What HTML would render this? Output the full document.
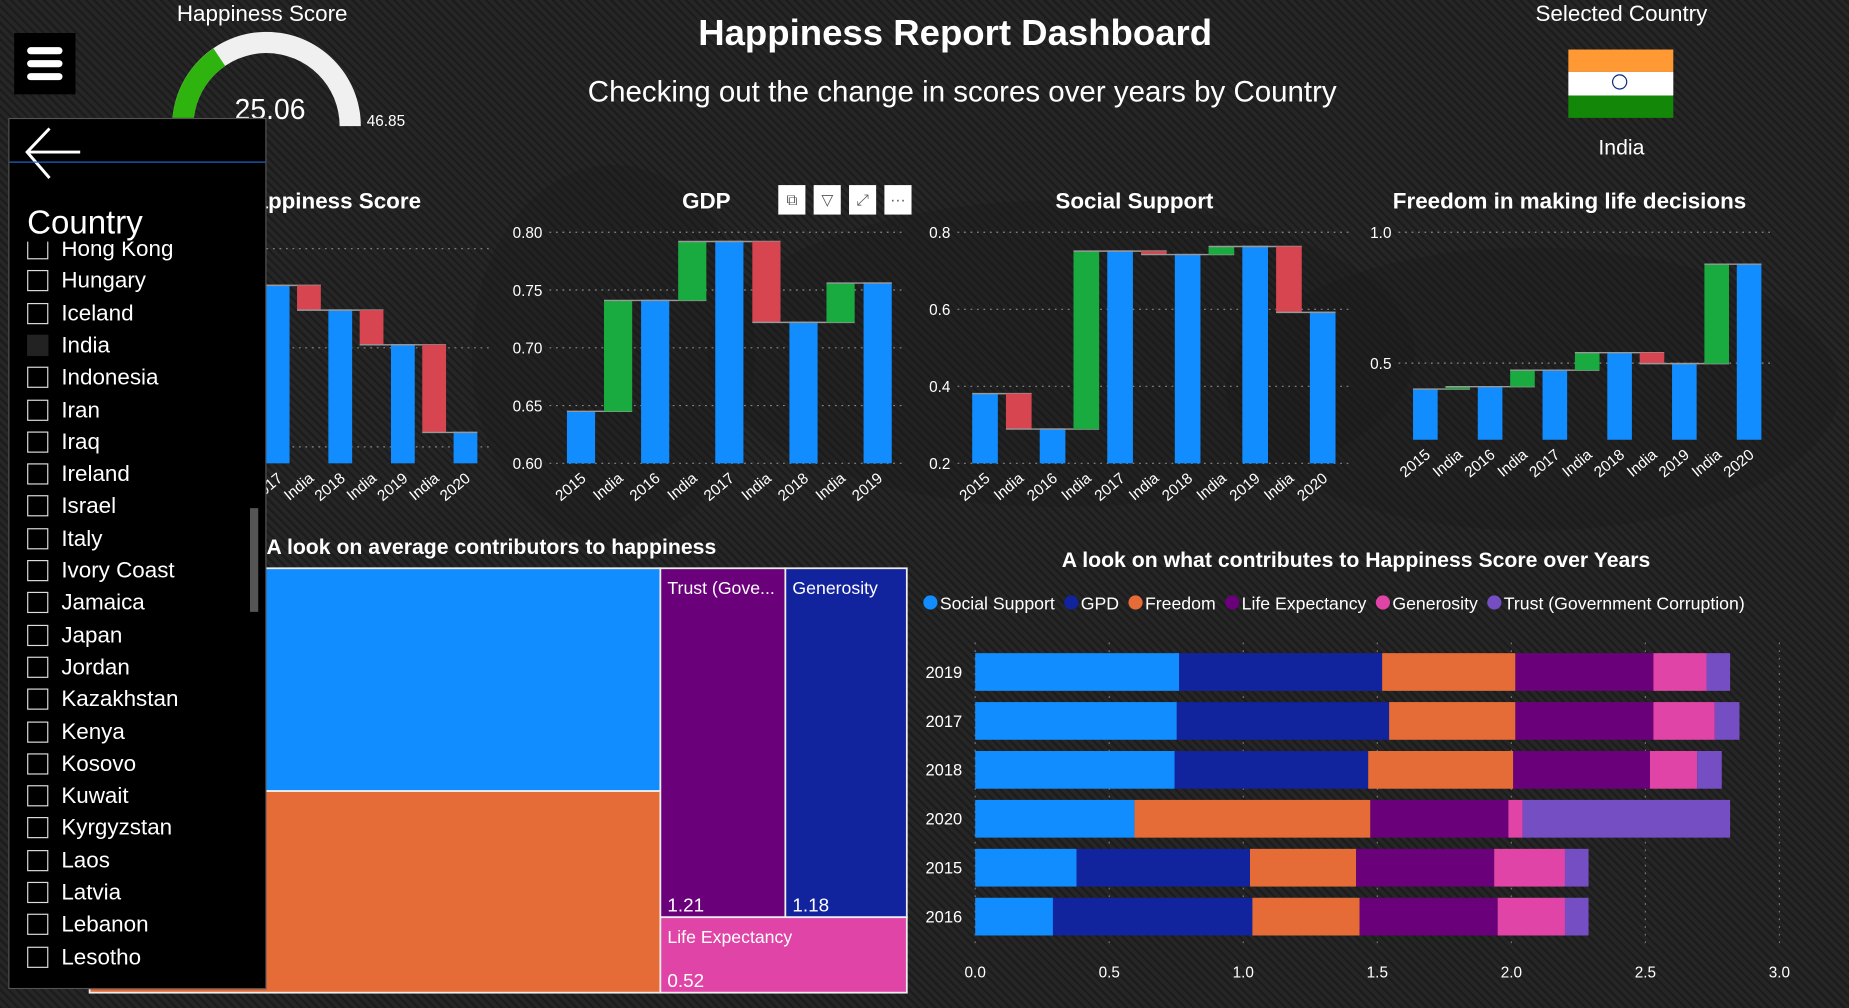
<!DOCTYPE html>
<html><head><meta charset="utf-8">
<style>
html,body{margin:0;padding:0;width:1849px;height:1008px;overflow:hidden;background:#1e1e1e;}
#stage{position:absolute;left:0;top:0;width:1568px;height:855px;transform:scale(1.17921,1.17895);transform-origin:0 0;
 background:repeating-linear-gradient(45deg,#1c1c1c 0 2px,#262626 2px 5px);font-family:"Liberation Sans",sans-serif;color:#fff;overflow:hidden;}
.abs{position:absolute;}
.t{white-space:nowrap;}
#panel{left:7px;top:100px;width:217px;height:737px;background:#000;border:1px solid #555;}
.item{position:absolute;left:15px;font-size:19px;height:24px;line-height:24px;}
.cb{display:inline-block;width:16px;height:16px;border:1.5px solid #ddd;vertical-align:-3px;margin-right:11px;}
.ic{position:absolute;top:157px;width:23px;height:25px;background:#fff;color:#555;font-size:13px;text-align:center;line-height:25px;}
</style></head><body>
<div id="stage">
<svg class="abs" style="left:0;top:0" width="1568" height="855" id="bgmap">
 <ellipse cx="900" cy="300" rx="300" ry="130" fill="#161616" opacity="0.25"/>
 <ellipse cx="1300" cy="330" rx="260" ry="120" fill="#161616" opacity="0.25"/>
 <ellipse cx="520" cy="300" rx="120" ry="160" fill="#161616" opacity="0.25"/>
</svg>

<div class="abs" style="left:12px;top:28px;width:52px;height:52px;background:#000">
 <div class="abs" style="left:11px;top:12px;width:30px;height:6px;background:#fff;border-radius:3px"></div>
 <div class="abs" style="left:11px;top:23px;width:30px;height:6px;background:#fff;border-radius:3px"></div>
 <div class="abs" style="left:11px;top:34px;width:30px;height:6px;background:#fff;border-radius:3px"></div>
</div>

<div class="abs t" style="left:150px;top:2px;font-size:19px">Happiness Score</div>
<svg class="abs" style="left:130px;top:20px" width="230" height="100">
 <path d="M 16 87 A 80 80 0 0 1 176 87 L 158 87 A 62 62 0 0 0 34 87 Z" fill="#f0f0f0"/>
 <path d="M 16 87 A 80 80 0 0 1 51 21 L 61 36 A 62 62 0 0 0 34 87 Z" fill="#2fb40f"/>
</svg>
<div class="abs t" style="left:199px;top:80px;font-size:24px">25.06</div>
<div class="abs t" style="left:311px;top:95px;font-size:13px">46.85</div>

<div class="abs t" style="left:0;width:1620px;text-align:center;top:10px;font-size:31px;font-weight:bold">Happiness Report Dashboard</div>
<div class="abs t" style="left:0;width:1632px;text-align:center;top:64px;font-size:25px">Checking out the change in scores over years by Country</div>

<div class="abs t" style="left:1275px;width:200px;text-align:center;top:2px;font-size:19px">Selected Country</div>
<div class="abs" style="left:1330px;top:42px;width:89px;height:58px">
 <div style="height:19px;background:#ff9933"></div><div style="height:20px;background:#fff;position:relative"><div style="position:absolute;left:37px;top:2px;width:13px;height:13px;border:1.5px solid #0a2a8a;border-radius:50%;box-sizing:border-box"></div></div><div style="height:19px;background:#138808"></div>
</div>
<div class="abs t" style="left:1325px;width:100px;text-align:center;top:115px;font-size:18px">India</div>

<div class="ic" style="left:660px">⧉</div>
<div class="ic" style="left:690px">▽</div>
<div class="ic" style="left:720px">⤢</div>
<div class="ic" style="left:750px">···</div>

<svg class="abs" style="left:0;top:0" width="1568" height="855" id="charts"></svg>

<div class="abs t" style="left:226px;top:454px;font-size:18px;font-weight:bold">A look on average contributors to happiness</div>
<div class="abs t" style="left:820px;width:660px;text-align:center;top:465px;font-size:18px;font-weight:bold">A look on what contributes to Happiness Score over Years</div>

<div class="abs" id="panel">
 <svg class="abs" style="left:10px;top:6px" width="62" height="50"><path d="M50 22 H6 M24 2 L5 22 L24 44" stroke="#fff" stroke-width="2.5" fill="none"/></svg>
 <div class="abs" style="left:0;top:36px;width:217px;height:1px;background:#1e6ad0"></div>
 <div class="abs t" style="left:15px;top:72px;font-size:28px">Country</div>
 <div class="abs" style="left:0;top:104px;width:217px;height:620px;overflow:hidden" id="list"></div>
 <div class="abs" style="left:204px;top:330px;width:7px;height:88px;background:#555"></div>
</div>
</div>
<script>
const NS='http://www.w3.org/2000/svg';
const svg=document.getElementById('charts');
function mk(tag,attrs,parent){const e=document.createElementNS(NS,tag);for(const k in attrs)e.setAttribute(k,attrs[k]);(parent||svg).appendChild(e);return e;}
function txt(x,y,s,size,attrs){const e=mk('text',Object.assign({x:x,y:y,fill:'#fff','font-size':size,'font-family':'Liberation Sans, sans-serif'},attrs||{}));e.textContent=s;return e;}

// ---- data ----
const wfYears=['2015','2016','2017','2018','2019','2020'];
const happinessValues=[4.565,4.404,4.315,4.190,4.015,3.573];
const happinessTicks=[3.5,4.0,4.5];
const gdpYears=['2015','2016','2017','2018','2019'];
const gdpValues=[0.645,0.741,0.792,0.722,0.756];
const gdpTicks=[0.60,0.65,0.70,0.75,0.80];
const socialValues=[0.381,0.289,0.751,0.742,0.763,0.592];
const socialTicks=[0.2,0.4,0.6,0.8];
const freedomValues=[0.401,0.410,0.473,0.540,0.498,0.878];
const freedomTicks=[0.5,1.0];

const stackYears=['2019','2017','2018','2020','2015','2016'];
const seriesNames=['Social Support','GPD','Freedom','Life Expectancy','Generosity','Trust (Government Corruption)'];
const ssVals=[0.761,0.752,0.744,0.594,0.378,0.290];
const gpdVals=[0.757,0.792,0.722,0.000,0.647,0.744];
const freedomVals=[0.497,0.471,0.541,0.880,0.396,0.400];
const lifeVals=[0.515,0.515,0.510,0.515,0.515,0.515];
const genVals=[0.198,0.229,0.176,0.053,0.264,0.251];
const trustVals=[0.088,0.092,0.092,0.774,0.088,0.088];
const stackTicks=[0,0.5,1.0,1.5,2.0,2.5,3.0];

const countries=['Hong Kong','Hungary','Iceland','India','Indonesia','Iran','Iraq','Ireland','Israel','Italy','Ivory Coast','Jamaica','Japan','Jordan','Kazakhstan','Kenya','Kosovo','Kuwait','Kyrgyzstan','Laos','Latvia','Lebanon','Lesotho'];

const BLUE='#118DFF',GREEN='#1AAB40',RED='#D64550';
const colors=['#118DFF','#12239E','#E66C37','#6B007B','#E044A7','#744EC2'];

// ---- waterfall ----
function waterfall(name,title,titleX,years,vals,ticks,cfg){
  const g=mk('g',{});
  
  
  const y=v=>cfg.yBot-(v-cfg.vMin)/(cfg.vMax-cfg.vMin)*(cfg.yBot-cfg.yTop);
  const n=years.length*2-1, step=(cfg.x1-cfg.x0)/n, bw=step*0.76;
  const xc=i=>cfg.x0+step*(i+0.5);
  ticks.forEach(t=>{
    const l=mk('line',{x1:cfg.gx,x2:cfg.x1+8,y1:y(t),y2:y(t),stroke:'#888','stroke-dasharray':'1.5 4','stroke-width':1},g);
    
    
    const tl=txt(cfg.gx-6,y(t)+5,t.toFixed(cfg.dec),13,{'text-anchor':'end'});
    g.appendChild(tl);
    
    
  });
  const t=txt(titleX,177,title,19,{'text-anchor':'middle','font-weight':'bold'});g.appendChild(t);
  
  
  for(let k=0;k<years.length;k++){
    const i=2*k, v=vals[k];
    const r=mk('rect',{x:xc(i)-bw/2,y:y(v),width:bw,height:cfg.yBot-y(v),fill:BLUE},g);
    
    
    mk('line',{x1:xc(i)-bw/2,x2:xc(i)+bw/2+(k<years.length-1?step:0),y1:y(v),y2:y(v),stroke:'#999','stroke-width':1.2},g);
    const lb=txt(xc(i)+5,cfg.yBot+14,years[k],13,{'text-anchor':'end',transform:'rotate(-40 '+(xc(i)+5)+' '+(cfg.yBot+14)+')'});g.appendChild(lb);
    
    
    if(k<years.length-1){
      const v2=vals[k+1], j=i+1;
      const top=Math.min(y(v),y(v2)), h=Math.abs(y(v)-y(v2));
      const d=mk('rect',{x:xc(j)-bw/2,y:top,width:bw,height:Math.max(h,1),fill:v2>=v?GREEN:RED},g);
      
      
      mk('line',{x1:xc(j)-bw/2,x2:xc(j)+bw/2+step,y1:y(v2),y2:y(v2),stroke:'#999','stroke-width':1.2},g);
      const li=txt(xc(j)+5,cfg.yBot+14,'India',13,{'text-anchor':'end',transform:'rotate(-40 '+(xc(j)+5)+' '+(cfg.yBot+14)+')'});g.appendChild(li);
      
      
    }
  }
}
waterfall('happiness-waterfall','Happiness Score',280,wfYears,happinessValues,happinessTicks,{x0:116,x1:408,gx:116,yTop:197,yBot:393,vMin:3.417,vMax:4.583,dec:1});
waterfall('gdp-waterfall','GDP',599,gdpYears,gdpValues,gdpTicks,{x0:477,x1:760,gx:466,yTop:197,yBot:393,vMin:0.60,vMax:0.80,dec:2});
waterfall('social-support-waterfall','Social Support',962,wfYears,socialValues,socialTicks,{x0:821,x1:1136,gx:812,yTop:197,yBot:393,vMin:0.2,vMax:0.8,dec:1});
waterfall('freedom-waterfall','Freedom in making life decisions',1331,wfYears,freedomValues,freedomTicks,{x0:1195,x1:1497,gx:1186,yTop:197,yBot:373,vMin:0.2072,vMax:1.0,dec:1});

// ---- treemap ----
const tm=mk('g',{});


[[76,482,484,189,'#118DFF','',''],[76,671,484,171,'#E66C37','',''],[560,482,106,296,'#6B007B','Trust (Gove...','1.21'],[666,482,103,296,'#12239E','Generosity','1.18'],[560,778,209,64,'#E044A7','Life Expectancy','0.52']].forEach(c=>{
  const r=mk('rect',{x:c[0],y:c[1],width:c[2],height:c[3],fill:c[4],stroke:'#eee','stroke-width':1.5},tm);
  
  
  if(c[5]){tm.appendChild(txt(c[0]+6,c[1]+22,c[5],15));tm.appendChild(txt(c[0]+6,c[1]+c[3]-5,c[6],16));}
});

// ---- stacked bar ----
const sb=mk('g',{});


const sx0=827,sx1=1509,sMax=3.0;
const sx=v=>sx0+v/sMax*(sx1-sx0);
stackTicks.forEach(t=>{
  const l=mk('line',{x1:sx(t),x2:sx(t),y1:545,y2:802,stroke:'#777','stroke-dasharray':'1.5 5'},sb);
  
  
  const tl=txt(sx(t),829,t.toFixed(1),13,{'text-anchor':'middle'});sb.appendChild(tl);
  
  
});
const allSeries=[ssVals,gpdVals,freedomVals,lifeVals,genVals,trustVals];
stackYears.forEach((yr,r)=>{
  const yy=554+r*41.5;
  const yl=txt(816,yy+21,yr,14,{'text-anchor':'end'});sb.appendChild(yl);
  
  
  let acc=0;
  allSeries.forEach((s,si)=>{
    const v=s[r]; if(v<=0)return;
    const rc=mk('rect',{x:sx(acc),y:yy,width:sx(acc+v)-sx(acc),height:32,fill:colors[si]},sb);
    
    
    acc+=v;
  });
});
let lx=783;
seriesNames.forEach((nm,i)=>{
  const c=mk('circle',{cx:lx+6,cy:511,r:6,fill:colors[i]},sb);
  
  
  const t=txt(lx+14,517,nm,15);sb.appendChild(t);
  
  
  lx+=14+t.getComputedTextLength()+8;
});

// ---- slicer list ----
const list=document.getElementById('list');
countries.forEach((c,i)=>{
  const d=document.createElement('div');
  d.className='item';
  d.style.top=(i*27.3-5)+'px';
  d.innerHTML='<span class="cb"'+(c==='India'?' style="background:#222;border-color:#222"':'')+'></span>'+c;
  
  
  list.appendChild(d);
});
</script>
</body></html>
